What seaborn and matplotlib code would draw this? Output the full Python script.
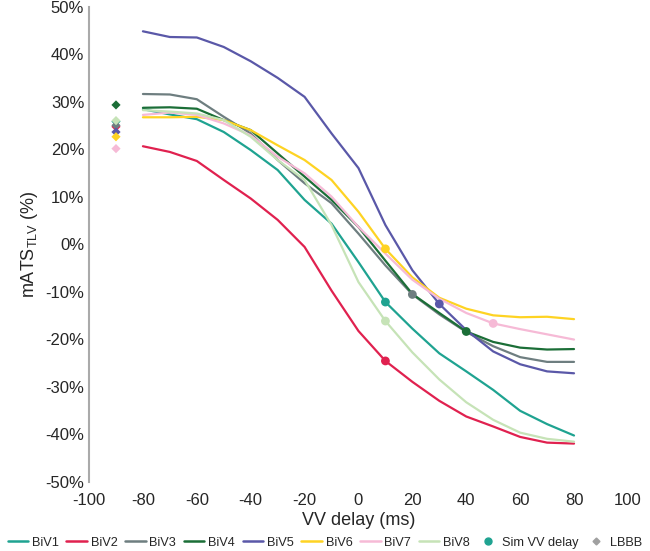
import matplotlib
matplotlib.use("Agg")
import matplotlib.pyplot as plt
from matplotlib.lines import Line2D
from matplotlib.ticker import FuncFormatter, MultipleLocator
import pandas as pd
import seaborn as sns

vv_delay = [-80, -70, -60, -50, -40, -30, -20, -10, 0, 10, 20, 30, 40, 50, 60, 70, 80]
series_names = ["BiV1", "BiV2", "BiV3", "BiV4", "BiV5", "BiV6", "BiV7", "BiV8"]

biv1 = [28.4, 27.3, 26.3, 23.6, 19.8, 15.6, 9.3, 4.3, -3.8, -12.2, -17.8, -23.0, -26.8, -30.7, -35.1, -37.9, -40.3]
biv2 = [20.6, 19.4, 17.5, 13.5, 9.6, 5.1, -0.6, -9.8, -18.3, -24.6, -29.0, -33.0, -36.3, -38.4, -40.6, -41.8, -42.0]
biv3 = [31.6, 31.5, 30.5, 26.8, 23.3, 17.7, 12.8, 8.6, 2.2, -4.5, -10.6, -14.8, -18.5, -21.5, -23.8, -24.8, -24.8]
biv4 = [28.7, 28.8, 28.5, 26.1, 24.0, 19.1, 14.2, 9.3, 3.6, -3.5, -10.5, -14.5, -18.4, -20.6, -21.8, -22.2, -22.1]
biv5 = [44.8, 43.6, 43.5, 41.5, 38.5, 35.0, 31.0, 23.3, 16.0, 4.0, -5.5, -12.6, -18.1, -22.6, -25.3, -26.8, -27.2]
biv6 = [26.7, 26.7, 26.8, 26.1, 24.0, 20.8, 17.7, 13.5, 6.8, -1.0, -7.0, -11.3, -13.6, -15.0, -15.4, -15.3, -15.8]
biv7 = [27.2, 27.7, 27.2, 25.4, 22.9, 18.4, 14.9, 10.0, 3.6, -2.0, -7.5, -11.5, -14.5, -16.7, -17.9, -19.0, -20.1]
biv8 = [28.2, 27.9, 27.5, 26.1, 22.6, 17.7, 13.5, 4.0, -8.0, -16.2, -22.8, -28.5, -33.3, -37.0, -39.7, -41.0, -41.6]

# simulated optimal VV delay and LBBB baseline per model
sim_delay = [10, 10, 20, 40, 30, 10, 50, 10]
sim_value = [-12.2, -24.6, -10.6, -18.4, -12.6, -1.0, -16.7, -16.2]
lbbb_delay = -90
lbbb_value = [25.8, 24.7, 25.0, 29.3, 23.6, 22.6, 20.1, 26.0]

colors = ["#1fa391", "#e0214f", "#6e7e80", "#1b6e37", "#5a58a8", "#fed323", "#f6bad6", "#c6e3b7"]
palette = dict(zip(series_names, colors))

curves = pd.DataFrame({
    "VV delay": vv_delay * len(series_names),
    "value": biv1 + biv2 + biv3 + biv4 + biv5 + biv6 + biv7 + biv8,
    "model": [n for n in series_names for _ in vv_delay],
})
sims = pd.DataFrame({"VV delay": sim_delay, "value": sim_value, "model": series_names})
lbbb = pd.DataFrame({"VV delay": [lbbb_delay] * len(series_names), "value": lbbb_value, "model": series_names})

sns.set_style("white")
plt.rcParams["font.family"] = ["Liberation Sans", "DejaVu Sans"]
plt.rcParams["axes.unicode_minus"] = False

fig = plt.figure(figsize=(6.5, 5.51), dpi=100)
ax = fig.add_axes([0.137, 0.126, 0.829, 0.862])

sns.lineplot(data=curves, x="VV delay", y="value", hue="model", palette=palette,
             linewidth=1.6, legend=False, ax=ax)
sns.scatterplot(data=lbbb, x="VV delay", y="value", hue="model", palette=palette,
                marker="D", s=22, linewidth=0, legend=False, ax=ax, zorder=3)
sns.scatterplot(data=sims, x="VV delay", y="value", hue="model", palette=palette,
                marker="o", s=40, linewidth=0, legend=False, ax=ax, zorder=4)

ax.set_xlim(-100, 100)
ax.set_ylim(-50, 50)
ax.xaxis.set_major_locator(MultipleLocator(20))
ax.yaxis.set_major_locator(MultipleLocator(10))
ax.yaxis.set_major_formatter(FuncFormatter(lambda v, _: f"{v:.0f}%"))
ax.set_xlabel("VV delay (ms)", fontsize=13, labelpad=3)
ax.set_ylabel("mATS$_{\\mathregular{TLV}}$ (%)", fontsize=13)

sns.despine(ax=ax, top=True, right=True, bottom=True)
ax.spines["left"].set_color("#aaaaaa")
ax.spines["left"].set_linewidth(1.5)
ax.tick_params(axis="y", direction="in", length=4, width=1, color="#aaaaaa", labelsize=12)
ax.tick_params(axis="x", length=0, labelsize=12, pad=8)

handles = [Line2D([0], [0], color=palette[n], lw=1.8) for n in series_names]
handles.append(Line2D([0], [0], color="#1fa391", marker="o", ls="", markersize=5))
handles.append(Line2D([0], [0], color="#a0a0a0", marker="D", ls="", markersize=3.5))
labels = series_names + ["Sim VV delay", "LBBB"]
fig.legend(handles, labels, loc="lower center", bbox_to_anchor=(0.5, -0.01), ncol=10,
           frameon=False, fontsize=9.2, handlelength=1.6, handletextpad=0.3,
           columnspacing=0.6, borderaxespad=0.2)

plt.savefig("out.png", dpi=100)
